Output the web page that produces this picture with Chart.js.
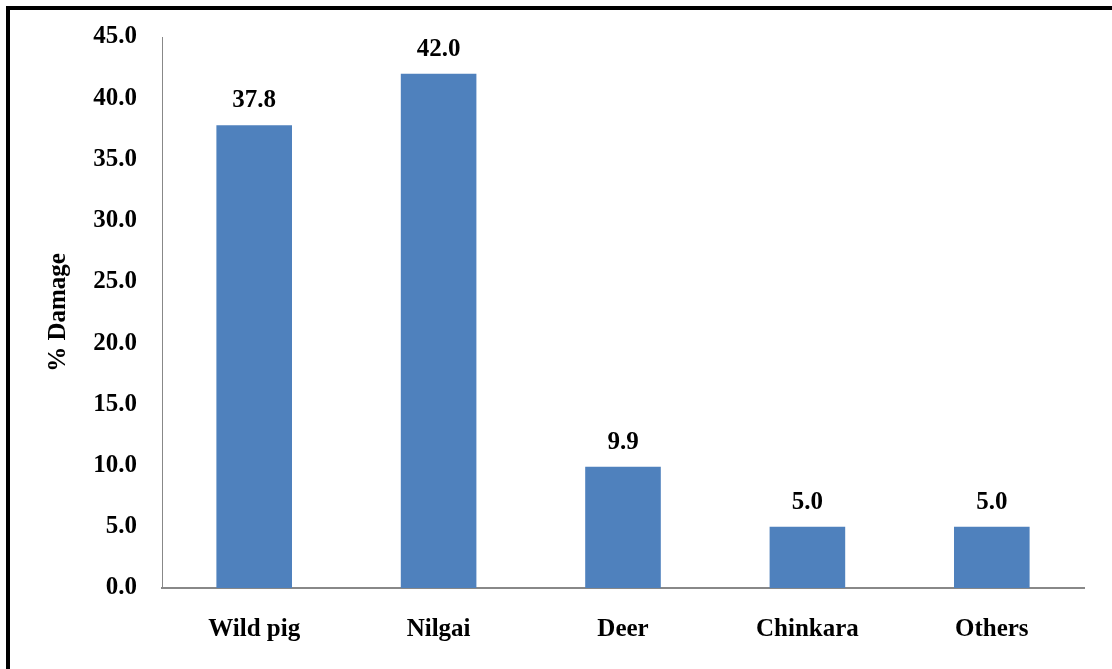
<!DOCTYPE html>
<html>
<head>
<meta charset="utf-8">
<title>% Damage by animal</title>
<script src="https://cdn.jsdelivr.net/npm/chart.js@4.4.1/dist/chart.umd.min.js"></script>
<style>
  html, body { margin: 0; padding: 0; background: #fff; }
  #wrap { position: relative; width: 1112px; height: 669px; overflow: hidden; }
  #frame { position: absolute; left: 6px; top: 6px; right: -10px; bottom: -10px; border-top: 4px solid #000; border-left: 4px solid #000; pointer-events: none; }
  canvas { position: absolute; left: 0; top: 0; }
</style>
</head>
<body>
<div id="wrap">
  <canvas id="chart" width="1112" height="669"></canvas>
  <div id="frame"></div>
</div>
<script>
  // data
  const categories = ["Wild pig", "Nilgai", "Deer", "Chinkara", "Others"];
  const damage = [37.8, 42.0, 9.9, 5.0, 5.0];
  const yTicks = [0, 5, 10, 15, 20, 25, 30, 35, 40, 45];

  const FONT = "'Liberation Serif', 'Times New Roman', serif";
  const BAR = "#4F81BD";
  const AXIS = "#888888";

  // value labels above each bar
  const valueLabels = {
    id: "valueLabels",
    afterDatasetsDraw(chart) {
      const ctx = chart.ctx;
      const meta = chart.getDatasetMeta(0);
      ctx.save();
      ctx.font = "bold 25px " + FONT;
      ctx.fillStyle = "#000";
      ctx.textAlign = "center";
      ctx.textBaseline = "alphabetic";
      meta.data.forEach((bar, i) => {
        ctx.fillText(damage[i].toFixed(1), bar.x, bar.y - 18);
      });
      ctx.restore();
    }
  };

  new Chart(document.getElementById("chart"), {
    type: "bar",
    data: {
      labels: categories,
      datasets: [{ data: damage, backgroundColor: BAR, borderWidth: 0, categoryPercentage: 1, barPercentage: 0.41 }]
    },
    options: {
      responsive: false,
      animation: false,
      layout: { padding: { left: 40, right: 28, top: 37, bottom: 0 } },
      plugins: { legend: { display: false }, tooltip: { enabled: false } },
      scales: {
        x: {
          grid: { display: false, drawTicks: false },
          border: { display: true, color: AXIS, width: 2 },
          ticks: { color: "#000", font: { family: FONT, size: 25, weight: "bold" }, padding: 27, maxRotation: 0 },
          afterFit: s => { s.height = 81; s.paddingLeft = 0; s.paddingRight = 0; }
        },
        y: {
          min: 0, max: 45,
          afterBuildTicks: s => { s.ticks = yTicks.map(v => ({ value: v })); },
          grid: { display: false, drawTicks: false },
          border: { display: true, color: AXIS, width: 1 },
          ticks: { color: "#000", font: { family: FONT, size: 25, weight: "bold" }, padding: 25, callback: v => Number(v).toFixed(1) },
          title: { display: true, text: "% Damage", color: "#000", font: { family: FONT, size: 25, weight: "bold" } },
          afterFit: s => { s.width = 122; s.paddingTop = 0; s.paddingBottom = 0; }
        }
      }
    },
    plugins: [valueLabels]
  });
</script>
</body>
</html>
